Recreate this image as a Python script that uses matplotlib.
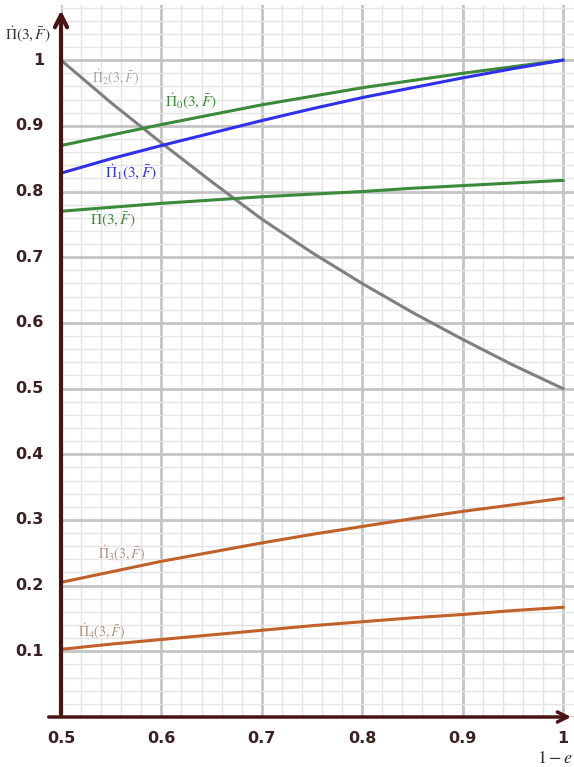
import matplotlib.pyplot as plt
import numpy as np

plt.rcParams['mathtext.fontset'] = 'stix'

x = [0.5, 0.55, 0.6, 0.65, 0.7, 0.75, 0.8, 0.85, 0.9, 0.95, 1.0]
pi2 = [1.0, 0.935, 0.874, 0.815, 0.758, 0.707, 0.660, 0.616, 0.575, 0.536, 0.5]
pi0 = [0.870, 0.886, 0.902, 0.917, 0.932, 0.945, 0.958, 0.969, 0.980, 0.990, 1.0]
pi1 = [0.828, 0.850, 0.870, 0.889, 0.908, 0.926, 0.943, 0.958, 0.973, 0.987, 1.0]
pi_ = [0.770, 0.776, 0.782, 0.787, 0.792, 0.796, 0.800, 0.805, 0.809, 0.813, 0.817]
pi3 = [0.205, 0.221, 0.237, 0.251, 0.265, 0.278, 0.290, 0.302, 0.313, 0.323, 0.333]
pi4 = [0.103, 0.111, 0.118, 0.125, 0.132, 0.139, 0.145, 0.151, 0.156, 0.162, 0.167]

xticks = [0.5, 0.6, 0.7, 0.8, 0.9, 1.0]
xtick_labels = ['0.5', '0.6', '0.7', '0.8', '0.9', '1']
yticks = [0.1, 0.2, 0.3, 0.4, 0.5, 0.6, 0.7, 0.8, 0.9, 1.0]
ytick_labels = ['0.1', '0.2', '0.3', '0.4', '0.5', '0.6', '0.7', '0.8', '0.9', '1']

axcol = '#4a1212'
green = '#3a8a3a'
blue = '#3030e8'
grey = '#808080'
orange = '#c0602a'
lab_brown = '#b89080'

fig = plt.figure(figsize=(5.74, 7.67), dpi=100)
ax = fig.add_axes([0.1063, 0.0652, 0.8937, 0.9283])
ax.set_xlim(0.5, 1.011)
ax.set_ylim(0, 1.084)

for s in ax.spines.values():
    s.set_visible(False)
ax.tick_params(which='both', length=0)
ax.set_xticks(np.arange(0.5, 1.01, 0.1))
ax.set_yticks(np.arange(0, 1.09, 0.1))
ax.set_xticks(np.arange(0.5, 1.011, 0.02), minor=True)
ax.set_yticks(np.arange(0, 1.084, 0.02), minor=True)
ax.set_xticklabels([])
ax.set_yticklabels([])
ax.grid(which='major', color='#c4c4c4', lw=2)
ax.grid(which='minor', color='#e4e4e4', lw=1)
ax.set_axisbelow(True)

ax.plot(x, pi2, color=grey, lw=2.2)
ax.plot(x, pi0, color=green, lw=2.2)
ax.plot(x, pi1, color=blue, lw=2.2)
ax.plot(x, pi_, color=green, lw=2.2)
ax.plot(x, pi3, color=orange, lw=2.2)
ax.plot(x, pi4, color=orange, lw=2.2)

ax.text(0.531, 0.974, r'$\dot{\Pi}_2(3,\bar{F})$', color='#a8a8a8', fontsize=10, va='center')
ax.text(0.604, 0.937, r'$\dot{\Pi}_0(3,\bar{F})$', color=green, fontsize=11, va='center')
ax.text(0.544, 0.830, r'$\dot{\Pi}_1(3,\bar{F})$', color=blue, fontsize=11, va='center')
ax.text(0.529, 0.758, r'$\dot{\Pi}(3,\bar{F})$', color=green, fontsize=11, va='center')
ax.text(0.537, 0.250, r'$\dot{\Pi}_3(3,\bar{F})$', color=lab_brown, fontsize=10, va='center')
ax.text(0.517, 0.131, r'$\dot{\Pi}_4(3,\bar{F})$', color=lab_brown, fontsize=10, va='center')

# axes with arrows
ax.annotate('', xy=(1.011, 0), xytext=(0.485, 0), xycoords='data',
            arrowprops=dict(arrowstyle='->', color=axcol, lw=2.5, mutation_scale=18),
            annotation_clip=False)
ax.annotate('', xy=(0.5, 1.08), xytext=(0.5, 0), xycoords='data',
            arrowprops=dict(arrowstyle='->', color=axcol, lw=3, mutation_scale=22),
            annotation_clip=False)

for v, lab in zip(xticks, xtick_labels):
    ax.text(v, -0.022, lab, ha='center', va='top', fontsize=11.5,
            fontweight='bold', color='#3a2020', clip_on=False)
for v, lab in zip(yticks, ytick_labels):
    ax.text(0.483, v, lab, ha='right', va='center', fontsize=11.5,
            fontweight='bold', color='#3a2020', clip_on=False)

ax.text(0.489, 1.04, r'$\dot{\Pi}(3,\bar{F})$', ha='right', va='center',
        fontsize=11, color='#303030', clip_on=False)
ax.text(1.01, -0.062, r'$1-e$', ha='right', va='center',
        fontsize=13, color='#303030', clip_on=False)

fig.savefig('out.png', dpi=100)
